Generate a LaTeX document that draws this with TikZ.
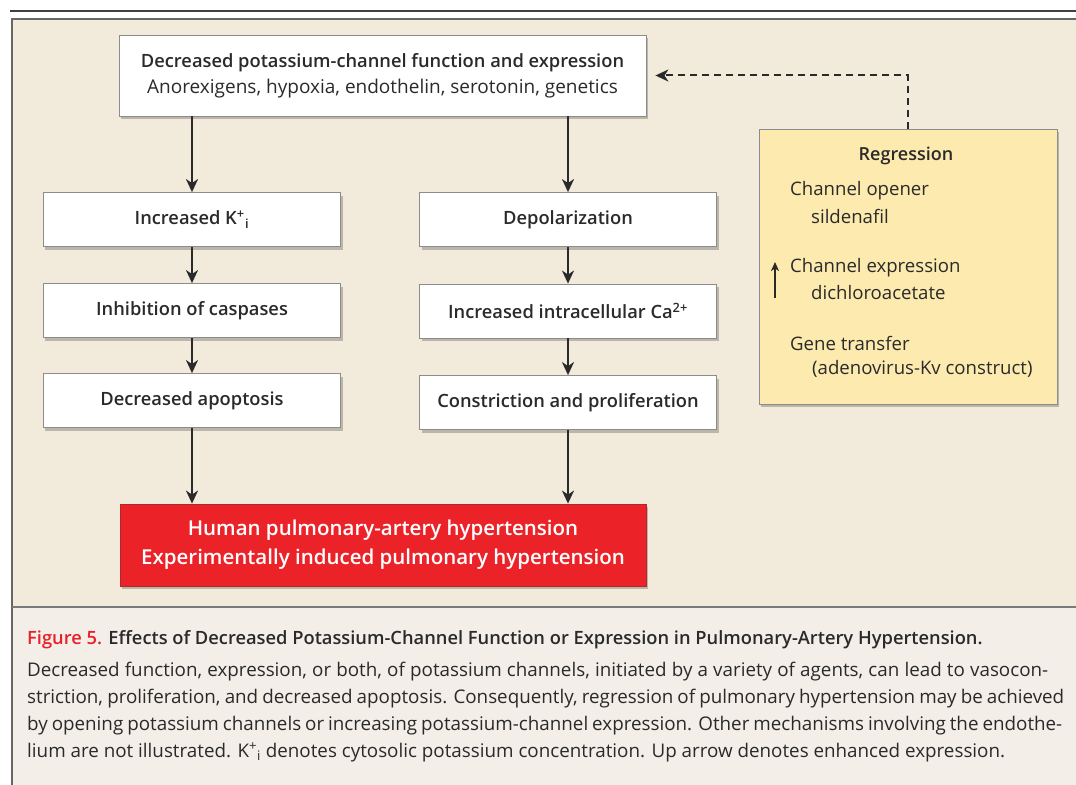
\documentclass[tikz,border=0pt]{standalone}
\usepackage{fontspec}
\setmainfont{Open Sans}
\IfFontExistsTF{Open Sans SemiBold}{\newfontfamily\semib{Open Sans SemiBold}}{%
  \IfFontExistsTF{Open Sans Semibold}{\newfontfamily\semib{Open Sans Semibold}}{\newcommand\semib{\bfseries}}}
\usetikzlibrary{arrows.meta,shadows}
\definecolor{panelbg}{HTML}{F2EADB}
\definecolor{capbg}{HTML}{F3EEE8}
\definecolor{toprule}{HTML}{404040}
\definecolor{frame}{HTML}{666666}
\definecolor{frametwo}{HTML}{7A7A7A}
\definecolor{boxline}{HTML}{8C8C8C}
\definecolor{textdark}{HTML}{2A2A2A}
\definecolor{redfill}{HTML}{EC2229}
\definecolor{redline}{HTML}{B3262B}
\definecolor{yellowfill}{HTML}{FCEAAE}
\definecolor{figred}{HTML}{E8202A}
\begin{document}
\begin{tikzpicture}[x=1bp,y=-1bp,
  shd/.style={drop shadow={shadow xshift=2bp,shadow yshift=-3bp,opacity=0.22,fill=black}},
  flowbox/.style={draw=boxline,line width=0.8bp,fill=white,inner sep=0pt,
    minimum height=54bp,text=textdark,align=center,shd,
    font=\fontsize{18.3bp}{22bp}\selectfont\semib},
  redbox/.style={draw=redline,line width=0.8bp,fill=redfill,inner sep=0pt,
    minimum width=526bp,minimum height=82bp,text=white,align=center,shd,
    font=\fontsize{20.5bp}{29bp}\selectfont\semib},
  regbox/.style={draw=boxline,line width=0.8bp,fill=yellowfill,inner sep=0pt,
    minimum width=298bp,minimum height=275bp,shd},
  regtext/.style={anchor=west,inner sep=0pt,text=textdark,font=\fontsize{18.6bp}{22bp}\selectfont},
  captext/.style={anchor=base west,inner sep=0pt,text=textdark,font=\fontsize{18.8bp}{22bp}\selectfont},
  arr/.style={line width=2bp,draw=textdark,-{Stealth[length=13bp,width=12bp,inset=4bp]}},
  dasharr/.style={line width=2bp,draw=textdark,dash pattern=on 7bp off 5bp,
    -{Stealth[length=13bp,width=12bp,inset=4bp]}}
]
\useasboundingbox (0,0) rectangle (1076,785);
\fill[white] (0,0) rectangle (1076,785);
\fill[panelbg] (12,19) rectangle (1076,607);
\fill[capbg] (12,607) rectangle (1076,785);
\draw[line width=2.2bp,color=toprule] (10,11) -- (1076,11);
\draw[line width=2bp,color=frame] (1076,19) -- (12,19) -- (12,785);
\draw[line width=2bp,color=frametwo] (12,607) -- (1076,607);

% top box
\node[flowbox,minimum width=527bp,minimum height=81bp] (top) at (382.5,75.5)
  {Decreased potassium-channel function and expression\\[4bp]
   {\fontsize{19bp}{22bp}\selectfont\normalfont Anorexigens, hypoxia, endothelin, serotonin, genetics}};

% left column
\node[flowbox,minimum width=297bp] (kin) at (192,219.5) {Increased K\textsuperscript{+}\kern0.5bp\textsubscript{i}};
\node[flowbox,minimum width=297bp] (casp) at (192,310.5) {Inhibition of caspases};
\node[flowbox,minimum width=297bp] (apop) at (192,400.5) {Decreased apoptosis};

% right column
\node[flowbox,minimum width=297bp] (dep) at (568,219.5) {Depolarization};
\node[flowbox,minimum width=297bp] (ca) at (568,311) {Increased intracellular Ca\textsuperscript{2+}};
\node[flowbox,minimum width=297bp] (con) at (568,402.5) {Constriction and proliferation};

% result
\node[redbox] (ph) at (383,545) {Human pulmonary-artery hypertension\\Experimentally induced pulmonary hypertension};

% regression
\node[regbox] (reg) at (908,266.5) {};
\node[inner sep=0pt,text=textdark,font=\fontsize{18bp}{22bp}\selectfont\semib] (regt) at (906,156) {Regression};
\node[regtext] (r1) at (790,191) {Channel opener};
\node[regtext] (r1b) at (811,216) {sildenafil};
\node[regtext] (r2) at (790,268) {Channel expression};
\node[regtext] (r2b) at (811,292.5) {dichloroacetate};
\node[regtext] (r3) at (790,343) {Gene transfer};
\node[regtext] (r3b) at (812,368.5) {(adenovirus-Kv construct)};
\coordinate (upb) at (775,298);
\coordinate (upt) at (775,262);
\draw[line width=2bp,draw=textdark,-{Stealth[length=9bp,width=8bp,inset=2.5bp]}] (upb) -- (upt);

% arrows
\draw[arr] (top.south -| kin.north) -- (kin.north);
\draw[arr] (kin.south) -- (casp.north);
\draw[arr] (casp.south) -- (apop.north);
\draw[arr] (apop.south) -- (ph.north -| apop.south);
\draw[arr] (top.south -| dep.north) -- (dep.north);
\draw[arr] (dep.south) -- (ca.north);
\draw[arr] (ca.south) -- (con.north);
\draw[arr] (con.south) -- (ph.north -| con.south);
\coordinate (bend) at (reg.north |- top.east);
\draw[dasharr] (reg.north) -- (bend) -- ([xshift=9bp]top.east);

% caption
\node[captext,font=\fontsize{18.3bp}{22bp}\selectfont] (capt) at (27,644)
  {{\semib\color{figred}Figure 5.} {\semib Effects of Decreased Potassium-Channel Function or Expression in Pulmonary-Artery Hypertension.}};
\node[captext] (c1) at (27,676) {\makebox[1021bp][s]{Decreased function, expression, or both, of potassium channels, initiated by a variety of agents, can lead to vasocon-}};
\node[captext] (c2) at (27,703) {\makebox[1037bp][s]{striction, proliferation, and decreased apoptosis. Consequently, regression of pulmonary hypertension may be achieved}};
\node[captext] (c3) at (27,730) {\makebox[1035bp][s]{by opening potassium channels or increasing potassium-channel expression. Other mechanisms involving the endothe-}};
\node[captext] (c4) at (27,757) {lium are not illustrated. K\textsuperscript{+}\textsubscript{i} denotes cytosolic potassium concentration. Up arrow denotes enhanced expression.};
\end{tikzpicture}
\end{document}
